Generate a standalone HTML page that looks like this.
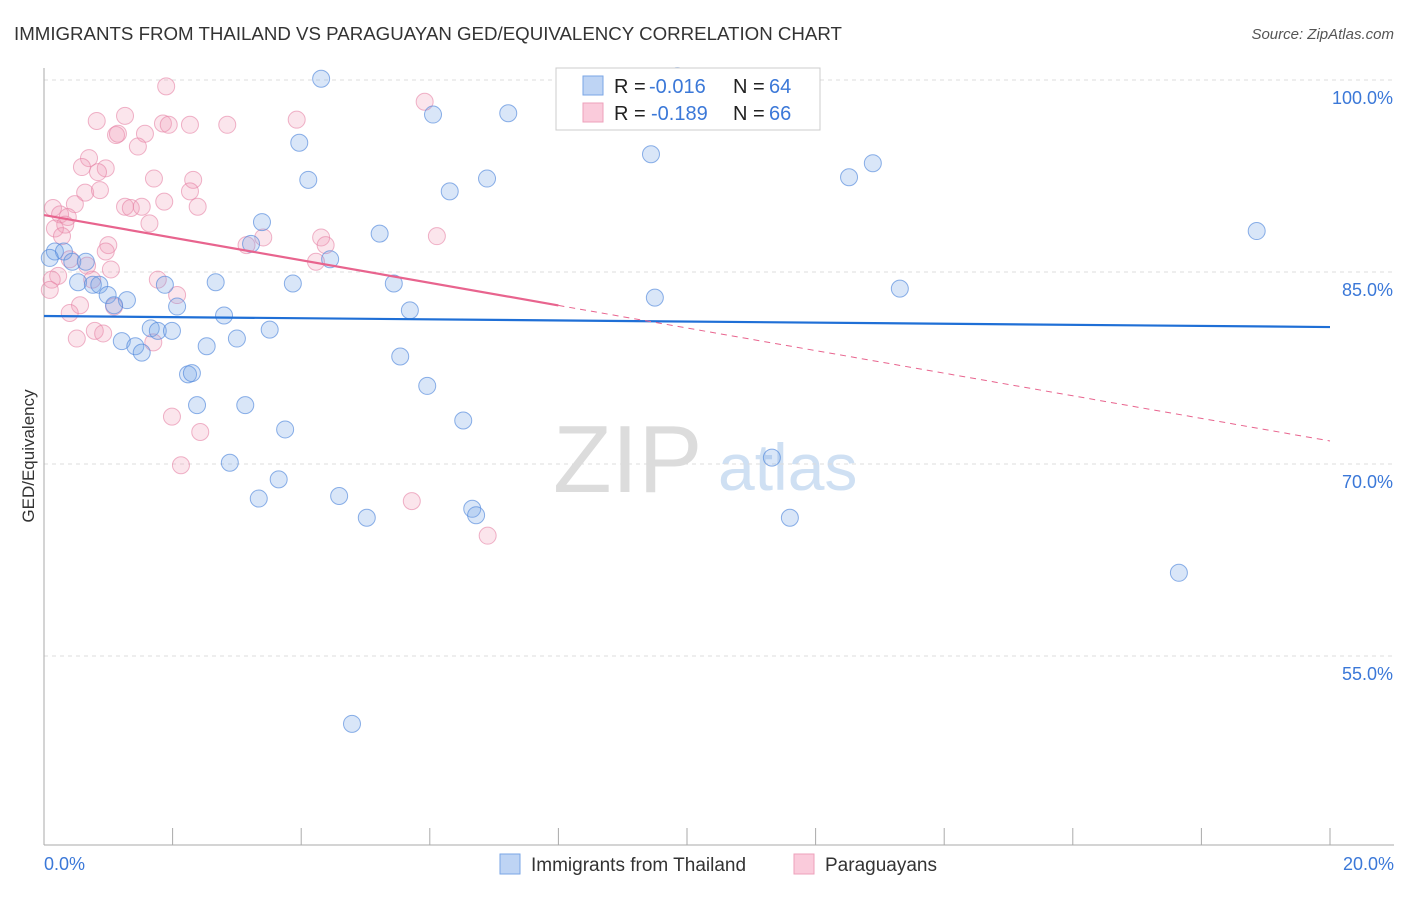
<!DOCTYPE html>
<html><head><meta charset="utf-8"><style>
body{margin:0;background:#fff;font-family:"Liberation Sans",sans-serif;}
svg text{font-family:"Liberation Sans",sans-serif;}
</style></head><body>
<svg id="c" width="1406" height="892" xmlns="http://www.w3.org/2000/svg"></svg>
<script>
const blueX=[4.31,6.05,7.22,3.97,9.44,12.89,12.52,4.11,6.89,6.31,3.39,5.22,18.86,3.22,4.45,0.17,0.31,0.09,0.44,0.65,0.53,0.76,0.86,0.99,1.29,1.09,1.88,2.67,3.87,5.44,9.50,13.31,5.69,2.07,2.80,1.66,1.77,1.99,3.51,1.21,3.00,1.42,1.52,2.53,5.54,2.24,2.30,5.96,2.38,3.13,6.52,3.75,11.32,2.89,3.65,3.34,4.59,6.66,6.72,5.02,11.60,17.65,4.79,9.85];
const blueY=[100.1,97.3,97.4,95.1,94.2,93.5,92.4,92.2,92.3,91.3,88.9,88.0,88.2,87.2,86.0,86.6,86.6,86.1,85.8,85.8,84.2,84.0,84.0,83.2,82.8,82.4,84.0,84.2,84.1,84.1,83.0,83.7,82.0,82.3,81.6,80.6,80.4,80.4,80.5,79.6,79.8,79.2,78.7,79.2,78.4,77.0,77.1,76.1,74.6,74.6,73.4,72.7,70.5,70.1,68.8,67.3,67.5,66.5,66.0,65.8,65.8,61.5,49.7,100.3];
const pinkX=[1.90,5.92,0.82,1.26,3.93,1.85,1.94,2.27,2.85,1.12,1.15,1.57,1.46,0.70,0.59,0.96,0.84,1.71,2.32,0.64,0.87,2.27,1.87,0.48,0.14,0.25,0.37,1.26,1.35,1.52,2.39,1.64,0.33,0.17,0.28,6.11,3.41,4.31,3.15,4.38,1.00,0.96,4.23,0.40,0.67,1.04,0.22,0.12,0.75,1.77,0.09,2.07,0.56,1.09,0.40,0.79,0.92,0.51,1.70,1.99,2.43,2.13,5.72,6.90];
const pinkY=[99.5,98.3,96.8,97.2,96.9,96.6,96.5,96.5,96.5,95.7,95.8,95.8,94.8,93.9,93.2,93.1,92.8,92.3,92.2,91.2,91.4,91.3,90.5,90.3,90.0,89.5,89.3,90.1,90.0,90.1,90.1,88.8,88.7,88.4,87.8,87.8,87.7,87.7,87.1,87.1,87.1,86.6,85.8,86.0,85.5,85.2,84.7,84.4,84.4,84.4,83.6,83.2,82.4,82.3,81.8,80.4,80.2,79.8,79.5,73.7,72.5,69.9,67.1,64.4];
const yTicks=[100,85,70,55];
const xTickVals=[0,2,4,6,8,10,12,14,16,18,20];
const blueTrend=[81.56,80.70];
const pinkTrend=[89.45,71.8];

const NS="http://www.w3.org/2000/svg";
const svg=document.getElementById('c');
const sx=v=>44+v/20*1286;
const sy=v=>80+(100-v)*12.8;
function el(t,a,p){const e=document.createElementNS(NS,t);for(const k in a)e.setAttribute(k,a[k]);(p||svg).appendChild(e);return e;}

let t=el('text',{x:14,y:40,'font-size':18.7,fill:'#333'});t.textContent='IMMIGRANTS FROM THAILAND VS PARAGUAYAN GED/EQUIVALENCY CORRELATION CHART';


t=el('text',{x:1394,y:39,'font-size':15,fill:'#555','text-anchor':'end','font-style':'italic'});t.textContent='Source: ZipAtlas.com';



t=el('text',{x:553,y:492,'font-size':96,fill:'#dcdcdc','font-family':'Liberation Serif'});t.textContent='ZIP';


t=el('text',{x:718,y:490,'font-size':66,fill:'#cfe0f3'});t.textContent='atlas';



yTicks.forEach(v=>{
  const g=el('line',{x1:44,x2:1394,y1:sy(v),y2:sy(v),stroke:'#ddd','stroke-dasharray':'4,4'});
  
  
  const l=el('text',{x:1393,y:sy(v)+24,'font-size':18,fill:'#3b78d8','text-anchor':'end'});l.textContent=v.toFixed(1)+'%';
  
  
});
let a=el('line',{x1:44,x2:44,y1:68,y2:845,stroke:'#aaa'});
a=el('line',{x1:44,x2:1394,y1:845,y2:845,stroke:'#aaa'});
xTickVals.forEach(v=>{const k=el('line',{x1:sx(v),x2:sx(v),y1:828,y2:845,stroke:'#aaa'});
  
  });
t=el('text',{x:44,y:870,'font-size':18,fill:'#3b78d8'});t.textContent='0.0%';


t=el('text',{x:1394,y:870,'font-size':18,fill:'#3b78d8','text-anchor':'end'});t.textContent='20.0%';


t=el('text',{x:34,y:456,'font-size':17,fill:'#333','text-anchor':'middle',transform:'rotate(-90 34 456)'});t.textContent='GED/Equivalency';



function dots(X,Y,fill,stroke,name){X.forEach((x,i)=>{const c=el('circle',{cx:sx(x),cy:sy(Y[i]),r:8.5,fill:fill,stroke:stroke,'stroke-width':1});
  
  });}
dots(pinkX,pinkY,'rgba(240,150,180,0.25)','rgba(230,130,165,0.6)','pink-point');
dots(blueX,blueY,'rgba(120,165,230,0.28)','rgba(80,135,220,0.65)','blue-point');

let L=el('line',{x1:sx(0),y1:sy(blueTrend[0]),x2:sx(20),y2:sy(blueTrend[1]),stroke:'#1f6fd6','stroke-width':2.2});

const pm=pinkTrend[0]+(pinkTrend[1]-pinkTrend[0])*0.4;
L=el('line',{x1:sx(0),y1:sy(pinkTrend[0]),x2:sx(8),y2:sy(pm),stroke:'#e8648e','stroke-width':2.2});

L=el('line',{x1:sx(8),y1:sy(pm),x2:sx(20),y2:sy(pinkTrend[1]),stroke:'#e8648e','stroke-width':1,'stroke-dasharray':'6,5'});


const lg=el('g',{});
el('rect',{x:556,y:68,width:264,height:62,fill:'#fff',stroke:'#ccc'},lg);
el('rect',{x:583,y:76,width:20,height:19,fill:'rgba(110,160,230,0.45)',stroke:'#7aa6e6'},lg);
el('rect',{x:583,y:103,width:20,height:19,fill:'rgba(245,160,190,0.55)',stroke:'#eea0bb'},lg);
function lt(x,y,s,c,n){const e=el('text',{x:x,y:y,'font-size':20,fill:c},lg);e.textContent=s;}
lt(614,93,'R =','#222','legend-r-label');lt(649,93,'-0.016','#3b78d8','legend-r-blue');
lt(733,93,'N =','#222','legend-n-label');lt(769,93,'64','#3b78d8','legend-n-blue');
lt(614,120,'R =','#222','legend-r-label');lt(651,120,'-0.189','#3b78d8','legend-r-pink');
lt(733,120,'N =','#222','legend-n-label');lt(769,120,'66','#3b78d8','legend-n-pink');

const bl=el('g',{});
el('rect',{x:500,y:854,width:20,height:20,fill:'rgba(110,160,230,0.45)',stroke:'#7aa6e6'},bl);
t=el('text',{x:531,y:871,'font-size':19,fill:'#333'},bl);t.textContent='Immigrants from Thailand';

el('rect',{x:794,y:854,width:20,height:20,fill:'rgba(245,160,190,0.55)',stroke:'#eea0bb'},bl);
t=el('text',{x:825,y:871,'font-size':19,fill:'#333'},bl);t.textContent='Paraguayans';

</script>
</body></html>
